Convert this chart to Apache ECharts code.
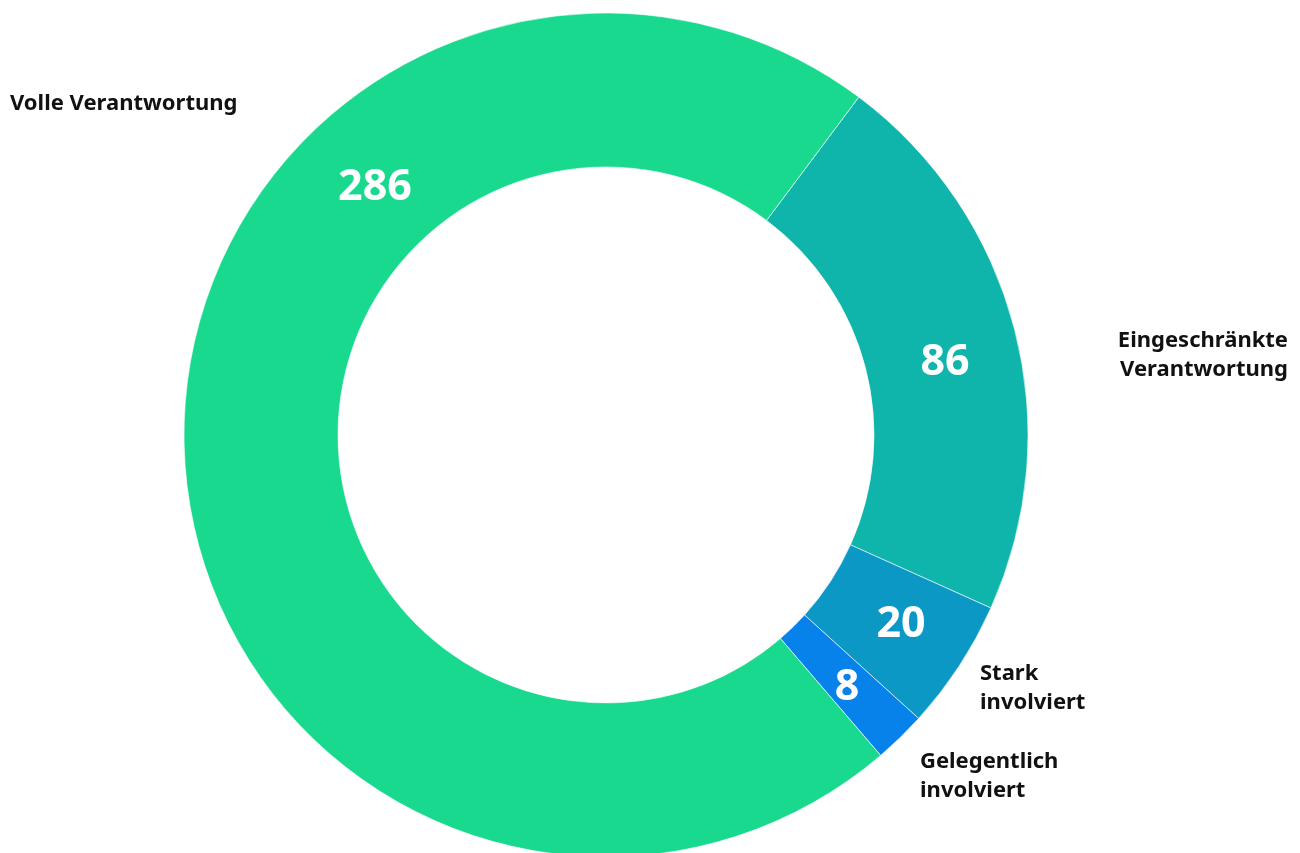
<!DOCTYPE html>
<html>
<head>
<meta charset="utf-8">
<script src="https://cdn.jsdelivr.net/npm/echarts@6/dist/echarts.min.js"></script>
<style>
html,body{margin:0;padding:0;background:#fff;}
#chart{width:1300px;height:853px;}
</style>
</head>
<body>
<div id="chart"></div>
<script>
const categories = ['Eingeschränkte\nVerantwortung', 'Stark\ninvolviert', 'Gelegentlich\ninvolviert', 'Volle Verantwortung'];
const values = [86, 20, 8, 286];
const colors = ['#0fb4aa', '#0b98c4', '#0682ea', '#19d98f'];

const FONT = '"Noto Sans", sans-serif';
const outerLabelPos = [
  {x: 1288, y: 355, align: 'right'},
  {x: 980, y: 688, align: 'left'},
  {x: 920, y: 776, align: 'left'},
  {x: 10, y: 104, align: 'left'}
];
const innerLabelPos = [
  {x: 945, y: 363},
  {x: 901, y: 625},
  {x: 847, y: 688},
  {x: 375, y: 188}
];

const data = categories.map((c, i) => ({name: c, value: values[i], itemStyle: {color: colors[i]}}));

const chart = echarts.init(document.getElementById('chart'));
const base = {
  type: 'pie',
  center: [606, 435],
  radius: [268, 422],
  startAngle: 53.2,
  clockwise: true,
  avoidLabelOverlap: false,
  animation: false,
  itemStyle: {borderColor: '#ffffff', borderWidth: 0.6},
  emphasis: {disabled: true}
};
chart.setOption({
  backgroundColor: '#ffffff',
  series: [
    Object.assign({}, base, {
      data: data,
      label: {
        show: true, position: 'inside', formatter: '{c}',
        color: '#ffffff', fontFamily: FONT, fontWeight: 'bold', fontSize: 43
      },
      labelLine: {show: false},
      labelLayout: function (p) {
        const pos = innerLabelPos[p.dataIndex];
        return {x: pos.x, y: pos.y, align: 'center', verticalAlign: 'middle'};
      }
    }),
    Object.assign({}, base, {
      silent: true,
      z: 3,
      data: data.map(d => ({name: d.name, value: d.value, itemStyle: {color: 'rgba(0,0,0,0)', borderWidth: 0}})),
      label: {
        show: true, position: 'outside', formatter: '{b}',
        color: '#111111', fontFamily: FONT, fontWeight: 'bold', fontSize: 22, lineHeight: 29
      },
      labelLine: {show: false},
      labelLayout: function (p) {
        const pos = outerLabelPos[p.dataIndex];
        return {x: pos.x, y: pos.y, align: pos.align, verticalAlign: 'middle'};
      }
    })
  ]
});
</script>
</body>
</html>
